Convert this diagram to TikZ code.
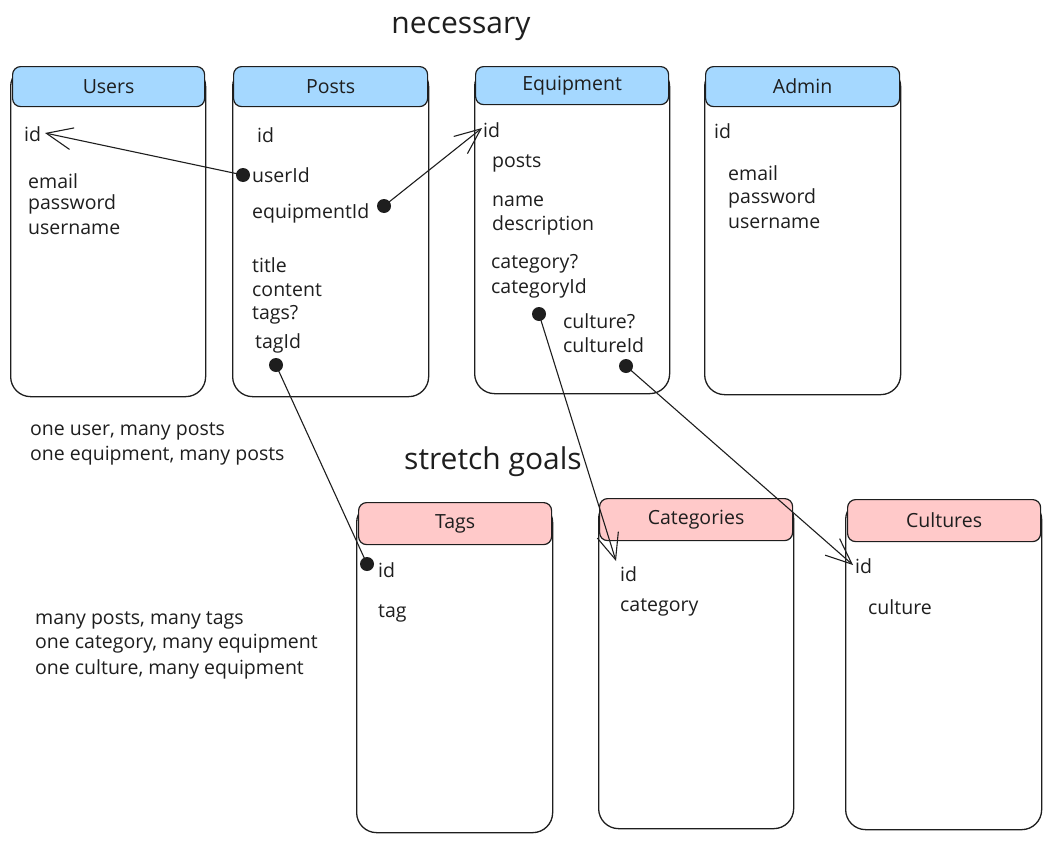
\documentclass[tikz,border=0pt]{standalone}
\usepackage{fontspec}
\setmainfont{Open Sans}
\usetikzlibrary{arrows.meta}
\definecolor{ink}{HTML}{1E1E1E}
\definecolor{hblue}{HTML}{A5D8FF}
\definecolor{hpink}{HTML}{FFC9C9}
\tikzset{
  tbody/.style={draw=ink, line width=1.3pt, rounded corners=20pt, anchor=north west, minimum width=#1, inner sep=0pt},
  thead/.style={draw=ink, line width=1.2pt, rounded corners=8pt, anchor=north west, minimum height=40pt, inner sep=0pt, font=\fontsize{19.5}{22}\selectfont, text=ink},
  blue/.style={fill=hblue},
  pink/.style={fill=hpink},
  fld/.style={anchor=west, inner sep=0pt, font=\fontsize{19.5}{22}\selectfont, text=ink},
  note/.style={anchor=west, inner sep=0pt, font=\fontsize{19.5}{22}\selectfont, text=ink, align=left},
  ttl/.style={inner sep=0pt, font=\fontsize{30}{34}\selectfont, text=ink},
  dot/.style={circle, fill=ink, inner sep=0pt, minimum size=14pt},
  conn/.style={draw=ink, line width=1.1pt},
  barb/.style={-{Straight Barb[length=26pt,width=22pt,line width=1.1pt]}},
}
\begin{document}
\begin{tikzpicture}[x=1pt,y=-1pt]
\useasboundingbox (0,0) rectangle (1051,843);
% titles
\node[ttl] (necessary) at (461,29) {necessary};
\node[ttl] (stretch) at (493,462) {stretch goals};
% ---- Users
\node[tbody=195pt, minimum height=330pt] (users) at (10,66) {};
\node[thead, blue, minimum width=192pt] (usersH) at (12,66) {Users};
\node[fld] (uId) at (24,134) {id};
\node[fld] (uEmail) at (28,181) {email};
\node[fld] (uPass) at (28,204) {password};
\node[fld] (uUser) at (28,229) {username};
% ---- Posts
\node[tbody=196pt, minimum height=330pt] (posts) at (232,66) {};
\node[thead, blue, minimum width=194pt] (postsH) at (233,66) {Posts};
\node[fld] (pId) at (257,135) {id};
\node[fld] (pUser) at (252,175) {userId};
\node[fld] (pEquip) at (252,213) {equipmentId};
\node[fld] (pTitle) at (252,265) {title};
\node[fld] (pContent) at (252,290) {content};
\node[fld] (pTags) at (252,315) {tags?};
\node[fld] (pTag) at (255,343) {tagId};
% ---- Equipment
\node[tbody=195pt, minimum height=327pt] (equip) at (474,66) {};
\node[thead, blue, minimum width=193pt, minimum height=38pt] (equipH) at (475,66) {Equipment};
\node[fld] (eId) at (483,130) {id};
\node[fld] (ePosts) at (492,163) {posts};
\node[fld] (eName) at (492,201) {name};
\node[fld] (eDesc) at (492,225) {description};
\node[fld] (eCat) at (491,264) {category?};
\node[fld] (eCatId) at (491,288) {categoryId};
\node[fld] (eCult) at (563,321) {culture?};
\node[fld] (eCultId) at (563,345) {cultureId};
% ---- Admin
\node[tbody=196pt, minimum height=328pt] (admin) at (704,66) {};
\node[thead, blue, minimum width=194pt] (adminH) at (705,66) {Admin};
\node[fld] (aId) at (714,131) {id};
\node[fld] (aEmail) at (728,173) {email};
\node[fld] (aPass) at (728,198) {password};
\node[fld] (aUser) at (728,223) {username};
% ---- notes
\node[note] (note1) at (30,431) {one user, many posts};
\node[note] (note2) at (30,456) {one equipment, many posts};
\node[note] (note3) at (35,620) {many posts, many tags};
\node[note] (note4) at (35,644) {one category, many equipment};
\node[note] (note5) at (35,669) {one culture, many equipment};
% ---- Tags
\node[tbody=196pt, minimum height=330pt] (tags) at (356,502) {};
\node[thead, pink, minimum width=193pt, minimum height=42pt] (tagsH) at (358,502) {Tags};
\node[fld] (tId) at (378,570) {id};
\node[fld] (tTag) at (378,613) {tag};
% ---- Categories
\node[tbody=195pt, minimum height=330pt] (cats) at (598,498) {};
\node[thead, pink, minimum width=193pt, minimum height=42pt] (catsH) at (599,498) {Categories};
\node[fld] (cId) at (620,574) {id};
\node[fld] (cCat) at (620,607) {category};
% ---- Cultures
\node[tbody=196pt, minimum height=330pt] (cults) at (845,499) {};
\node[thead, pink, minimum width=193pt, minimum height=42pt] (cultsH) at (847,499) {Cultures};
\node[fld] (kId) at (855,566) {id};
\node[fld] (kCult) at (868,607) {culture};
% ---- connectors
\node[dot] (dUser) at (243,175) {};
\coordinate (tipUser) at (45,133);
\draw[conn, barb] (dUser.center) -- (tipUser);

\node[dot] (dEquip) at (384,206) {};
\coordinate (tipEquip) at (482,128);
\draw[conn, barb] (dEquip.center) -- (tipEquip);

\node[dot] (dTag) at (276,365) {};
\node[dot] (dTagId) at (367,564) {};
\draw[conn] (dTag.center) -- (dTagId.center);

\node[dot] (dCat) at (539,314) {};
\coordinate (tipCat) at (616,561);
\draw[conn, barb] (dCat.center) -- (tipCat);

\node[dot] (dCult) at (626,366) {};
\coordinate (tipCult) at (853,565);
\draw[conn, barb] (dCult.center) -- (tipCult);
\end{tikzpicture}
\end{document}
